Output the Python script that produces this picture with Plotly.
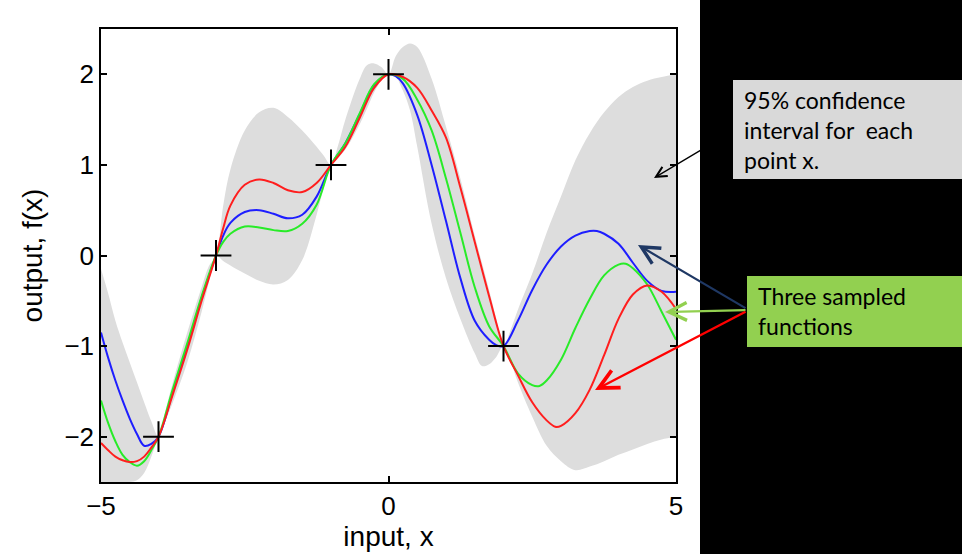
import plotly.graph_objects as go

# ---------------- data ----------------
obs_x = [-4, -3, -1, 0, 2]
obs_y = [-2, 0, 1, 2, -1]

band_x = [-5.0, -4.875, -4.75, -4.625, -4.5, -4.375, -4.25, -4.125, -4.0, -3.875, -3.75, -3.5, -3.25, -3.125,
          -3.0, -2.875, -2.75, -2.5, -2.25, -2.0, -1.75, -1.5, -1.25, -1.125, -1.0, -0.875, -0.75, -0.5,
          -0.375, -0.25, -0.125, 0.0, 0.125, 0.25, 0.375, 0.5, 0.75, 1.0, 1.25, 1.5, 1.625, 1.75, 1.875,
          2.0, 2.125, 2.25, 2.5, 2.75, 3.0, 3.25, 3.5, 3.75, 4.0, 4.25, 4.5, 4.75, 5.0]
band_upper = [-0.15, -0.42, -0.72, -0.96, -1.18, -1.4, -1.62, -1.83, -2.0, -1.7, -1.4, -0.85, -0.35, -0.12,
              0.0, 0.55, 0.95, 1.38, 1.58, 1.63, 1.53, 1.38, 1.2, 1.1, 1.0, 1.22, 1.5, 1.95,
              2.1, 2.12, 2.08, 2.0, 2.2, 2.3, 2.34, 2.3, 1.95, 1.42, 0.85, 0.22, -0.08, -0.38, -0.7,
              -1.0, -0.82, -0.6, -0.2, 0.25, 0.65, 1.05, 1.35, 1.58, 1.75, 1.86, 1.93, 1.97, 2.0]
band_lower = [-2.5, -2.5, -2.5, -2.5, -2.5, -2.48, -2.4, -2.22, -2.0, -1.82, -1.62, -1.18, -0.62, -0.3,
              0.0, -0.06, -0.11, -0.2, -0.28, -0.32, -0.27, -0.05, 0.45, 0.75, 1.0, 1.08, 1.17, 1.45,
              1.62, 1.8, 1.93, 2.0, 1.97, 1.82, 1.6, 1.2, 0.35, -0.25, -0.7, -1.08, -1.22, -1.2, -1.12,
              -1.0, -1.17, -1.4, -1.78, -2.1, -2.27, -2.37, -2.33, -2.27, -2.2, -2.14, -2.08, -2.03, -2.0]

blue_x = [-5.0, -4.875, -4.75, -4.625, -4.5, -4.375, -4.25, -4.125, -4.0, -3.75, -3.5, -3.25, -3.0,
          -2.875, -2.75, -2.5, -2.25, -2.0, -1.75, -1.5, -1.25, -1.0, -0.75, -0.5, -0.25, 0.0,
          0.125, 0.25, 0.5, 0.75, 1.0, 1.25, 1.5, 1.75, 1.875, 2.0, 2.25, 2.5, 2.75, 3.0, 3.25, 3.5,
          3.625, 3.75, 4.0, 4.25, 4.5, 4.75, 5.0]
blue_y = [-0.85, -1.13, -1.38, -1.6, -1.8, -1.97, -2.1, -2.08, -2.0, -1.5, -1.0, -0.47, 0.0,
          0.22, 0.36, 0.48, 0.5, 0.46, 0.41, 0.45, 0.65, 1.0, 1.24, 1.56, 1.88, 2.0,
          1.98, 1.9, 1.55, 1.0, 0.38, -0.25, -0.72, -0.93, -0.99, -1.0, -0.72, -0.38, -0.1, 0.1, 0.22, 0.27,
          0.27, 0.24, 0.13, -0.08, -0.28, -0.39, -0.4]

green_x = [-5.0, -4.875, -4.75, -4.625, -4.5, -4.375, -4.25, -4.125, -4.0, -3.75, -3.5, -3.25, -3.0,
           -2.875, -2.75, -2.5, -2.25, -2.0, -1.75, -1.5, -1.25, -1.0, -0.75, -0.5, -0.25, 0.0,
           0.25, 0.5, 0.75, 1.0, 1.25, 1.5, 1.75, 2.0, 2.25, 2.5, 2.625, 2.75, 3.0, 3.25, 3.5, 3.75,
           4.0, 4.125, 4.25, 4.5, 4.75, 5.0]
green_y = [-1.6, -1.85, -2.05, -2.2, -2.28, -2.32, -2.27, -2.15, -2.0, -1.47, -0.97, -0.45, 0.0,
           0.15, 0.24, 0.32, 0.31, 0.28, 0.27, 0.35, 0.56, 1.0, 1.24, 1.57, 1.89, 2.0,
           1.95, 1.72, 1.38, 0.85, 0.25, -0.35, -0.78, -1.0, -1.3, -1.43, -1.44, -1.38, -1.15, -0.8, -0.48, -0.22,
           -0.1, -0.09, -0.14, -0.32, -0.62, -0.93]

red_x = [-5.0, -4.875, -4.75, -4.625, -4.5, -4.375, -4.25, -4.125, -4.0, -3.75, -3.5, -3.25, -3.0,
         -2.875, -2.75, -2.5, -2.25, -2.0, -1.75, -1.5, -1.25, -1.0, -0.75, -0.5, -0.25, 0.0,
         0.25, 0.5, 0.75, 1.0, 1.25, 1.5, 1.75, 2.0, 2.25, 2.5, 2.75, 2.9, 3.0, 3.25, 3.5, 3.75,
         4.0, 4.25, 4.5, 4.75, 5.0]
red_y = [-2.07, -2.15, -2.22, -2.26, -2.28, -2.27, -2.22, -2.12, -2.0, -1.53, -1.04, -0.5, 0.0,
         0.3, 0.55, 0.78, 0.84, 0.8, 0.72, 0.7, 0.8, 1.0, 1.2, 1.52, 1.85, 2.0,
         1.97, 1.85, 1.6, 1.3, 0.75, 0.15, -0.45, -1.0, -1.32, -1.62, -1.82, -1.89, -1.88, -1.74, -1.48, -1.1,
         -0.7, -0.43, -0.33, -0.4, -0.59]

x_ticks = [-5, 0, 5]
y_ticks = [-2, -1, 0, 1, 2]

band_note = "95% confidence<br>interval for  each<br>point x."
sample_note = "Three sampled<br>functions"

# ---------------- layout helpers ----------------
W, H = 962, 554
L_PX, R_PX, T_PX, B_PX = 101, 676, 29, 482


def px(x):
    return (x - L_PX) / (R_PX - L_PX)


def py(y):
    return (B_PX - y) / (B_PX - T_PX)


fig = go.Figure()

fig.add_trace(go.Scatter(x=band_x, y=band_lower, mode="lines", line=dict(width=0, shape="spline"),
                         hoverinfo="skip", showlegend=False))
fig.add_trace(go.Scatter(x=band_x, y=band_upper, mode="lines", line=dict(width=0, shape="spline"),
                         fill="tonexty", fillcolor="rgb(221,221,221)", hoverinfo="skip", showlegend=False))

for xs, ys, col in [(blue_x, blue_y, "rgb(30,30,255)"),
                    (green_x, green_y, "rgb(40,235,40)"),
                    (red_x, red_y, "rgb(255,30,30)")]:
    fig.add_trace(go.Scatter(x=xs, y=ys, mode="lines", line=dict(color=col, width=2, shape="spline"),
                             showlegend=False))

fig.add_trace(go.Scatter(x=obs_x, y=obs_y, mode="markers",
                         marker=dict(symbol="cross-thin", size=22, line=dict(width=2, color="black")),
                         showlegend=False))

tick_font = dict(family="Liberation Sans, Arial, sans-serif", size=26, color="black")
title_font = dict(family="Liberation Sans, Arial, sans-serif", size=28, color="black")

fig.update_layout(
    width=W, height=H,
    margin=dict(l=L_PX, r=W - R_PX, t=T_PX, b=H - B_PX, autoexpand=False),
    paper_bgcolor="white", plot_bgcolor="white",
    xaxis=dict(range=[-5, 5], tickvals=x_ticks, ticks="inside", ticklen=6, tickwidth=1.5,
               tickcolor="black", showline=True, linecolor="black", linewidth=1.5, mirror="allticks",
               showgrid=False, zeroline=False, tickfont=tick_font,
               title=dict(text="input, x", font=title_font, standoff=2)),
    yaxis=dict(range=[-2.5, 2.5], tickvals=y_ticks, ticks="inside", ticklen=6, tickwidth=1.5,
               tickcolor="black", showline=True, linecolor="black", linewidth=1.5, mirror="allticks",
               showgrid=False, zeroline=False, tickfont=tick_font,
               title=dict(text="output, f(x)", font=title_font, standoff=14)),
)

# right-hand black panel and note boxes
fig.add_shape(type="rect", xref="paper", yref="paper", x0=px(700), x1=px(970), y0=py(-5), y1=py(560),
              fillcolor="black", line=dict(width=0), layer="above")
fig.add_shape(type="rect", xref="paper", yref="paper", x0=px(733), x1=px(970), y0=py(179), y1=py(80),
              fillcolor="rgb(217,217,217)", line=dict(width=0), layer="above")
fig.add_shape(type="rect", xref="paper", yref="paper", x0=px(747), x1=px(970), y0=py(347), y1=py(276),
              fillcolor="rgb(146,208,80)", line=dict(width=0), layer="above")

note_font = dict(family="Lato, Open Sans, sans-serif", size=23, color="black")
fig.add_annotation(xref="paper", yref="paper", x=px(742), y=py(130), xanchor="left", yanchor="middle",
                   text=band_note, align="left", showarrow=False, font=note_font)
fig.add_annotation(xref="paper", yref="paper", x=px(756), y=py(311), xanchor="left", yanchor="middle",
                   text=sample_note, align="left", showarrow=False, font=note_font)

# arrows: (tail px, head px, colour, width)
arrows = [((733, 131), (654, 178), "black", 1.3),
          ((747, 309), (638, 245), "rgb(31,56,100)", 2.2),
          ((747, 310), (665, 312), "rgb(146,208,80)", 2.2),
          ((747, 311), (595, 390), "rgb(255,0,0)", 2.4)]
for (tx, ty), (hx, hy), col, wdt in arrows:
    fig.add_annotation(xref="paper", yref="paper", x=px(hx), y=py(hy), ax=tx - hx, ay=ty - hy,
                       text="", showarrow=True, arrowhead=5, arrowsize=1.6, arrowwidth=wdt,
                       arrowcolor=col, standoff=0)

fig.write_html("out.html")
